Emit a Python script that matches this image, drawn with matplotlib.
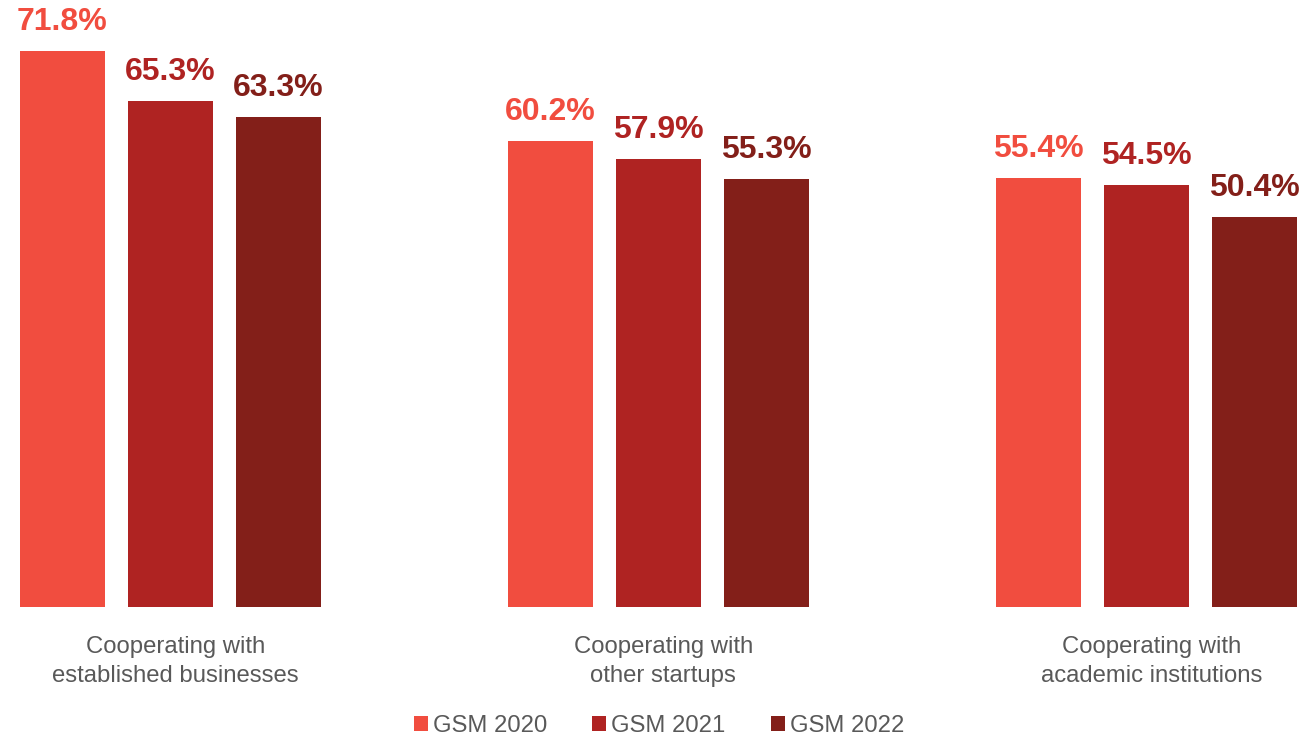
import numpy as np
import matplotlib
matplotlib.use('Agg')
from matplotlib import pyplot as plt
from matplotlib.patches import Patch

plt.rcParams['font.family'] = ['Liberation Sans', 'DejaVu Sans']

categories = ['Cooperating with\nestablished businesses',
              'Cooperating with\nother startups',
              'Cooperating with\nacademic institutions']
series = ['GSM 2020', 'GSM 2021', 'GSM 2022']
gsm_2020 = [71.8, 60.2, 55.4]
gsm_2021 = [65.3, 57.9, 54.5]
gsm_2022 = [63.3, 55.3, 50.4]
colors = ['#F14D3F', '#AF2322', '#831F19']

fig = plt.figure(figsize=(13.05, 7.36), dpi=100)
ax = fig.add_axes([0, 1 - 607 / 736, 1, 607 / 736])

x = np.arange(len(categories))
pitch = 108 / 488
width = 85 / 488

for i, (vals, c) in enumerate(zip([gsm_2020, gsm_2021, gsm_2022], colors)):
    pos = x + (i - 1) * pitch
    bars = ax.bar(pos, vals, width, color=c)
    for b, v in zip(bars, vals):
        ax.annotate('%.1f%%' % v, (b.get_x() + b.get_width() / 2, v),
                    xytext=(0, 10), textcoords='offset points',
                    ha='center', va='bottom', fontsize=23,
                    fontweight='bold', color=c)

ax.set_xlim(-170.5 / 488, (1305 - 170.5) / 488)
ax.set_ylim(0, 607 / 7.744)
ax.set_xticks(x + 0.01)
ax.set_xticklabels(categories, fontsize=17.2, color='#595959', linespacing=1.4)
ax.tick_params(axis='x', length=0, pad=21)
ax.set_yticks([])
for s in ax.spines.values():
    s.set_visible(False)

handles = [Patch(facecolor=c, label=s) for s, c in zip(series, colors)]
fig.legend(handles=handles, loc='lower center', bbox_to_anchor=(0.505, -0.03),
           ncol=3, frameon=False, fontsize=17.2, labelcolor='#595959',
           handlelength=0.59, handleheight=0.59, handletextpad=0.2,
           columnspacing=1.9)

fig.savefig('out.png', dpi=100)
